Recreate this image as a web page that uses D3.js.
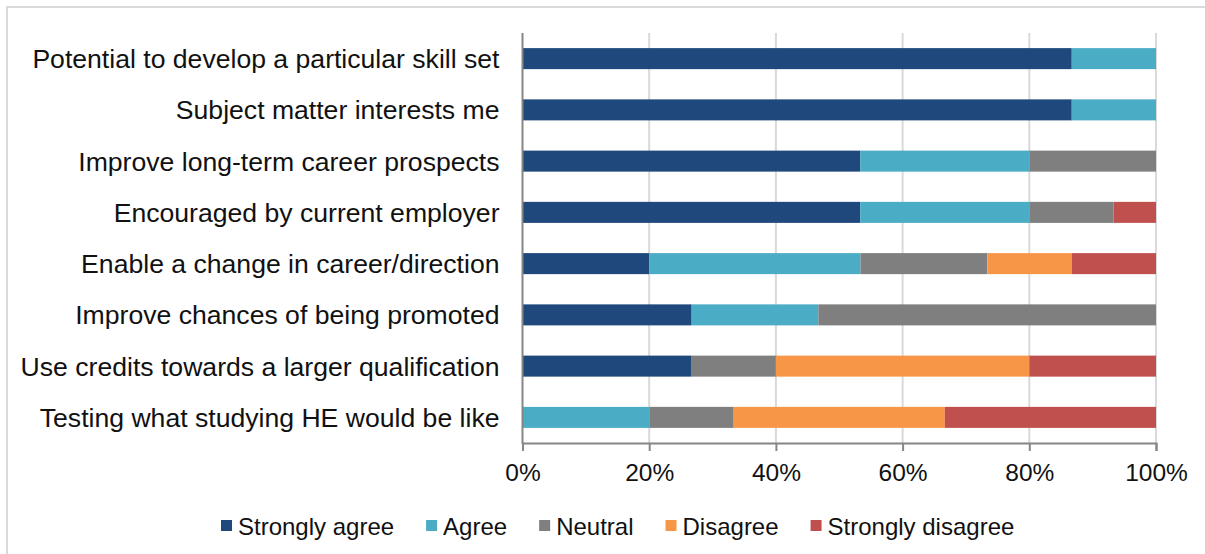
<!DOCTYPE html>
<html>
<head>
<meta charset="utf-8">
<script src="https://cdn.jsdelivr.net/npm/d3@7"></script>
<style>
  html, body { margin: 0; padding: 0; background: #fff; }
  svg { display: block; font-family: "Liberation Sans", Arial, sans-serif; }
</style>
</head>
<body>
<svg id="chart" width="1205" height="554"></svg>
<script>
// Reasons for taking the course, share of respondents per answer (%)
const categories = [
  "Potential to develop a particular skill set",
  "Subject matter interests me",
  "Improve long-term career prospects",
  "Encouraged by current employer",
  "Enable a change in career/direction",
  "Improve chances of being promoted",
  "Use credits towards a larger qualification",
  "Testing what studying HE would be like"
];
const seriesNames = ["Strongly agree", "Agree", "Neutral", "Disagree", "Strongly disagree"];
const stronglyAgree    = [86.7, 86.7, 53.3, 53.3, 20.0, 26.7, 26.7, 0.0];
const agree            = [13.3, 13.3, 26.7, 26.7, 33.3, 20.0, 0.0, 20.0];
const neutral          = [0.0, 0.0, 20.0, 13.3, 20.0, 53.3, 13.3, 13.3];
const disagree         = [0.0, 0.0, 0.0, 0.0, 13.3, 0.0, 40.0, 33.3];
const stronglyDisagree = [0.0, 0.0, 0.0, 6.7, 13.3, 0.0, 20.0, 33.3];
const tickValues = [0, 0.2, 0.4, 0.6, 0.8, 1.0];
const colors = ["#1f497d", "#4bacc6", "#7f7f7f", "#f79646", "#c0504d"];

const seriesValues = [stronglyAgree, agree, neutral, disagree, stronglyDisagree];
const rows = categories.map((c, i) => {
  const r = { category: c };
  seriesNames.forEach((s, k) => { r[s] = seriesValues[k][i]; });
  return r;
});

const svg = d3.select("#chart");

// outer frame
svg.append("rect")
  .attr("x", 7).attr("y", 7)
  .attr("width", 1400).attr("height", 800)
  .attr("fill", "none").attr("stroke", "#d9d9d9").attr("stroke-width", 2);

const plot = { left: 522.5, right: 1156, top: 33, bottom: 443 };

const x = d3.scaleLinear().domain([0, 1]).range([plot.left, plot.right]);
const y = d3.scaleBand().domain(categories).range([plot.top, plot.bottom])
  .paddingInner(0.59).paddingOuter(0.295);

// vertical gridlines
svg.append("g").selectAll("line")
  .data(tickValues.slice(1))
  .join("line")
  .attr("x1", d => x(d)).attr("x2", d => x(d))
  .attr("y1", plot.top).attr("y2", plot.bottom)
  .attr("stroke", "#d9d9d9").attr("stroke-width", 2);

// stacked bars, normalised to 100%
const stack = d3.stack().keys(seriesNames).offset(d3.stackOffsetExpand);
const layers = stack(rows);

svg.append("g").selectAll("g")
  .data(layers)
  .join("g")
  .attr("fill", (d, i) => colors[i])
  .selectAll("rect")
  .data(d => d.filter(p => p[1] - p[0] > 0))
  .join("rect")
  .attr("x", d => x(d[0]))
  .attr("width", d => x(d[1]) - x(d[0]))
  .attr("y", d => y(d.data.category))
  .attr("height", y.bandwidth());

// x axis
const xAxis = d3.axisBottom(x)
  .tickValues(tickValues)
  .tickFormat(d3.format(".0%"))
  .tickSize(8)
  .tickPadding(13);

const gx = svg.append("g")
  .attr("transform", `translate(0,${plot.bottom})`)
  .call(xAxis);
gx.select(".domain").attr("stroke", "#868686").attr("stroke-width", 2);
gx.selectAll(".tick line").attr("stroke", "#868686").attr("stroke-width", 2);
gx.selectAll(".tick text")
  .attr("font-size", "24.5px")
  .attr("fill", "#111")
  .attr("font-family", "Liberation Sans, Arial, sans-serif");

// y axis line
svg.append("line")
  .attr("x1", plot.left).attr("x2", plot.left)
  .attr("y1", plot.top).attr("y2", plot.bottom + 1)
  .attr("stroke", "#868686").attr("stroke-width", 2);

// category labels
svg.append("g").selectAll("text")
  .data(categories)
  .join("text")
  .attr("x", plot.left - 23)
  .attr("y", d => y(d) + y.bandwidth() / 2)
  .attr("dy", "0.36em")
  .attr("text-anchor", "end")
  .attr("font-size", "26.6px")
  .attr("fill", "#111")
  .text(d => d);

// legend
const legend = svg.append("g").attr("transform", "translate(221,526)");
let lx = 0;
seriesNames.forEach((name, i) => {
  const g = legend.append("g").attr("transform", `translate(${lx},0)`);
  g.append("rect")
    .attr("x", 0).attr("y", -6)
    .attr("width", 11).attr("height", 11)
    .attr("fill", colors[i]);
  const t = g.append("text")
    .attr("x", 17).attr("y", 0)
    .attr("dy", "0.36em")
    .attr("font-size", "24px")
    .attr("fill", "#111")
    .text(name);
  lx += 17 + t.node().getComputedTextLength() + 32;
});
</script>
</body>
</html>
